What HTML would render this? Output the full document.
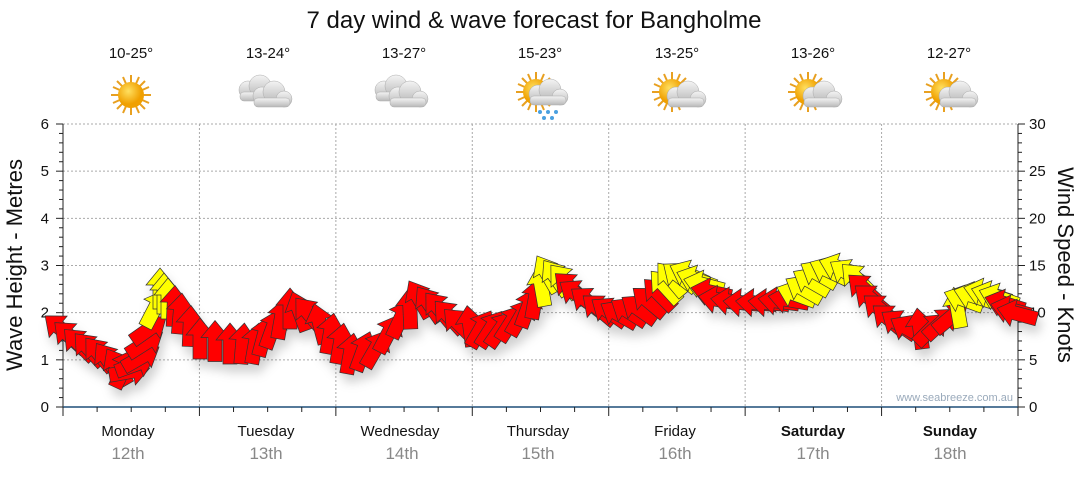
<!DOCTYPE html>
<html><head><meta charset="utf-8"><style>
body{margin:0;background:#fff;width:1080px;height:475px;overflow:hidden;font-family:"Liberation Sans","DejaVu Sans",sans-serif}
</style></head><body>
<svg id="s" width="1080" height="475" xmlns="http://www.w3.org/2000/svg" font-family="Liberation Sans, DejaVu Sans, sans-serif">
<defs>
<filter id="sh" x="-50%" y="-50%" width="200%" height="200%"><feDropShadow dx="3" dy="8" stdDeviation="5" flood-color="#000" flood-opacity="0.18"/></filter>
<radialGradient id="sun" cx="40%" cy="35%"><stop offset="0" stop-color="#ffe060"/><stop offset="1" stop-color="#f0a000"/></radialGradient>
<linearGradient id="cl" x1="0" y1="0" x2="0" y2="1"><stop offset="0" stop-color="#f4f4f4"/><stop offset="1" stop-color="#b8b8b8"/></linearGradient>
<g id="sunI"><g stroke="#e8a020" stroke-width="2">
<line x1="-20" y1="0" x2="20" y2="0"/><line x1="0" y1="-20" x2="0" y2="20"/><line x1="-14" y1="-14" x2="14" y2="14"/><line x1="-14" y1="14" x2="14" y2="-14"/>
<line x1="-18" y1="-8" x2="18" y2="8"/><line x1="-18" y1="8" x2="18" y2="-8"/><line x1="-8" y1="-18" x2="8" y2="18"/><line x1="8" y1="-18" x2="-8" y2="18"/></g>
<circle r="13" fill="url(#sun)"/></g>
<g id="cloud"><g fill="url(#cl)" stroke="#aaa" stroke-width="0.5"><circle cx="-8" cy="0" r="9"/><circle cx="4" cy="-4" r="11"/><circle cx="14" cy="3" r="8"/><rect x="-16" y="2" width="36" height="9" rx="4"/></g></g>
</defs>
<text x="534" y="28" font-size="24" text-anchor="middle" fill="#111">7 day wind &amp; wave forecast for Bangholme</text>
<g font-size="15" fill="#111" text-anchor="middle">
<text x="131" y="58">10-25°</text><text x="268" y="58">13-24°</text><text x="404" y="58">13-27°</text><text x="540" y="58">15-23°</text><text x="677" y="58">13-25°</text><text x="813" y="58">13-26°</text><text x="949" y="58">12-27°</text>
</g>
<use href="#sunI" x="131" y="95"/>
<g transform="translate(262,94)"><use href="#cloud" x="-6" y="-4"/><use href="#cloud" x="8" y="2"/></g>
<g transform="translate(398,94)"><use href="#cloud" x="-6" y="-4"/><use href="#cloud" x="8" y="2"/></g>
<g transform="translate(536,92)"><use href="#sunI"/><use href="#cloud" x="10" y="2"/><g fill="#4aa0e0"><circle cx="4" cy="20" r="2"/><circle cx="12" cy="20" r="2"/><circle cx="20" cy="20" r="2"/><circle cx="8" cy="26" r="2"/><circle cx="16" cy="26" r="2"/></g></g>
<g transform="translate(672,92)"><use href="#sunI"/><use href="#cloud" x="12" y="4"/></g>
<g transform="translate(808,92)"><use href="#sunI"/><use href="#cloud" x="12" y="4"/></g>
<g transform="translate(944,92)"><use href="#sunI"/><use href="#cloud" x="12" y="4"/></g>
<g id="grid" stroke="#aaa" stroke-width="1" stroke-dasharray="2,2"></g>
<g id="axes"></g>
<g id="arrows" filter="url(#sh)" stroke="#333" stroke-width="0.7" stroke-linejoin="miter"></g>
<text x="1013" y="401" font-size="11" fill="#9aaabb" text-anchor="end">www.seabreeze.com.au</text>
<g font-size="15" text-anchor="middle" fill="#111">
<text x="128" y="436">Monday</text><text x="266" y="436">Tuesday</text><text x="400" y="436">Wednesday</text><text x="538" y="436">Thursday</text><text x="675" y="436">Friday</text><text x="813" y="436" font-weight="bold">Saturday</text><text x="950" y="436" font-weight="bold">Sunday</text>
</g>
<g font-size="17" text-anchor="middle" fill="#888">
<text x="128" y="459">12th</text><text x="266" y="459">13th</text><text x="402" y="459">14th</text><text x="538" y="459">15th</text><text x="675" y="459">16th</text><text x="813" y="459">17th</text><text x="950" y="459">18th</text>
</g>
<text transform="translate(22,265) rotate(-90)" font-size="22" text-anchor="middle" fill="#111">Wave Height - Metres</text>
<text transform="translate(1058,265) rotate(90)" font-size="22" text-anchor="middle" fill="#111">Wind Speed - Knots</text>
</svg>
<script>
var NS="http://www.w3.org/2000/svg";
function el(p,t,a){var e=document.createElementNS(NS,t);for(var k in a)e.setAttribute(k,a[k]);p.appendChild(e);return e;}
var X0=63,X1=1018,Y0=407,YT=124,g=document.getElementById('grid'),ax=document.getElementById('axes');
var dw=(X1-X0)/7;
for(var i=1;i<7;i++){var x=X0+dw*i;el(g,'line',{x1:x,y1:YT,x2:x,y2:Y0});}
for(var m=1;m<=6;m++){var y=Y0-(Y0-YT)*m/6;el(g,'line',{x1:X0,y1:y,x2:X1,y2:y});}
el(ax,'line',{x1:X0,y1:YT,x2:X0,y2:Y0,stroke:'#222'});
el(ax,'line',{x1:X1,y1:YT,x2:X1,y2:Y0,stroke:'#222'});
el(ax,'line',{x1:X0,y1:Y0,x2:X1,y2:Y0,stroke:'#1f4e79','stroke-width':1.5});
for(var k=0;k<=30;k++){var y=Y0-(Y0-YT)*k/30;var L=k%5==0?7:4;el(ax,'line',{x1:X0-L,y1:y,x2:X0,y2:y,stroke:'#222'});}
for(var k=0;k<=30;k++){var y=Y0-(Y0-YT)*k/30;var L=k%5==0?7:4;el(ax,'line',{x1:X1,y1:y,x2:X1+L,y2:y,stroke:'#222'});}
for(var k=0;k<=28;k++){var x=X0+dw*k/4;var L=k%4==0?9:5;el(ax,'line',{x1:x,y1:Y0,x2:x,y2:Y0+L,stroke:'#222'});}
for(var m=0;m<=6;m++){var y=Y0-(Y0-YT)*m/6;var t=el(ax,'text',{x:X0-14,y:y+5,'font-size':15,'text-anchor':'end',fill:'#111'});t.textContent=m;}
for(var k=0;k<=30;k+=5){var y=Y0-(Y0-YT)*k/30;var t=el(ax,'text',{x:X1+11,y:y+5,'font-size':15,fill:'#111'});t.textContent=k;}
var K=[
[62,330,-50,'r'],[80,345,-45,'r'],[100,355,-40,'r'],[118,368,-30,'r'],[128,372,80,'r'],[140,358,60,'r'],[148,330,55,'r'],[160,290,0,'y'],[168,300,0,'y'],
[180,315,5,'r'],[200,340,0,'r'],[230,345,0,'r'],[255,345,10,'r'],[272,330,20,'r'],[290,310,0,'r'],[310,315,-40,'r'],
[330,335,10,'r'],[350,355,10,'r'],[375,350,30,'r'],[400,320,25,'r'],[420,300,-30,'r'],[440,310,-40,'r'],[460,325,-45,'r'],
[480,330,30,'r'],[500,330,35,'r'],[520,318,30,'r'],[535,300,10,'r'],[548,275,-30,'y'],[565,282,-40,'y'],[578,295,-55,'r'],
[600,310,-50,'r'],[620,315,-60,'r'],[640,310,-55,'r'],[660,295,-45,'r'],[672,280,-40,'y'],[690,275,-65,'y'],[705,285,-75,'y'],
[720,300,-80,'r'],[745,303,-85,'r'],[770,303,-85,'r'],[790,300,-80,'r'],[805,290,-60,'y'],[820,275,-60,'y'],[840,268,-70,'y'],[858,280,-45,'y'],
[872,300,-50,'r'],[890,320,-50,'r'],[910,330,-60,'r'],[930,330,45,'r'],[950,318,50,'r'],[965,300,-70,'y'],[985,293,-75,'y'],[1000,298,-70,'y'],[1012,310,-75,'r'],[1025,318,-75,'r']
];
var A=document.getElementById('arrows');
function arrow(x,y,a,c){
 var p="M0,-22 L14,-5 L7,-5 L7,19 L-7,19 L-7,-5 L-14,-5 Z";
 el(A,'path',{d:p,fill:c=='y'?'#ffff00':'#ff0000',transform:'translate('+x.toFixed(1)+','+y.toFixed(1)+') rotate('+a+')'});
}
for(var i=0;i<K.length-1;i++){
 var a=K[i],b=K[i+1];
 for(var t=0;t<1;t+=0.5){
  arrow(a[0]+(b[0]-a[0])*t,a[1]+(b[1]-a[1])*t,a[2]+(b[2]-a[2])*t,t<0.5?a[3]:b[3]);
 }
}
</script>
</body></html>
